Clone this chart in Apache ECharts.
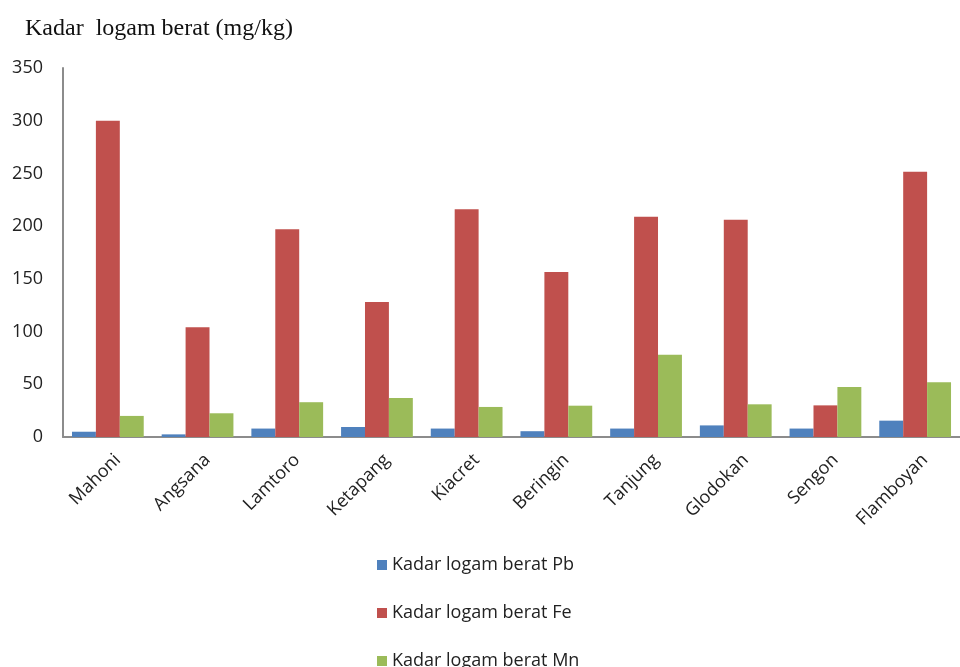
<!DOCTYPE html>
<html>
<head>
<meta charset="utf-8">
<script src="https://cdn.jsdelivr.net/npm/echarts@6/dist/echarts.min.js"></script>
<style>html,body{margin:0;padding:0;background:#fff}#c{width:960px;height:667px}</style>
</head>
<body>
<div id="c"></div>
<script>
const categories = ['Mahoni','Angsana','Lamtoro','Ketapang','Kiacret','Beringin','Tanjung','Glodokan','Sengon','Flamboyan'];
const pb = [5, 2.5, 8, 9.5, 8, 5.5, 8, 11, 8, 15.5];
const fe = [300, 104, 197, 128, 216, 156.5, 209, 206, 30, 251.5];
const mn = [20, 22.5, 33, 37, 28.5, 29.7, 78, 31, 47.5, 52];
const seriesNames = ['Kadar logam berat Pb','Kadar logam berat Fe','Kadar logam berat Mn'];
const yTicks = [0, 50, 100, 150, 200, 250, 300, 350];

const chart = echarts.init(document.getElementById('c'));
const sans = '"Open Sans", "Noto Sans", sans-serif';
const legendTops = [551, 599, 647];
chart.setOption({
  animation: false,
  color: ['#4F81BD','#C0504D','#9BBB59'],
  title: {
    text: 'Kadar  logam berat (mg/kg)',
    left: 20, top: 12,
    textStyle: {fontFamily: '"Liberation Serif", "DejaVu Serif", serif', fontSize: 24, fontWeight: 'normal', color: '#111'}
  },
  legend: seriesNames.map((n, i) => ({
    orient: 'vertical', left: 372, top: legendTops[i],
    itemWidth: 10, itemHeight: 10, icon: 'rect', itemGap: 6,
    textStyle: {fontFamily: sans, fontSize: 18, color: '#222', padding: [0, 0, 0, 0]},
    data: [n]
  })),
  grid: {left: 63, right: 0, top: 68, bottom: 230, containLabel: false},
  xAxis: {
    type: 'category', data: categories,
    axisLine: {lineStyle: {color: '#8c8c8c', width: 2}},
    axisTick: {show: false},
    axisLabel: {rotate: 45, interval: 0, fontFamily: sans, fontSize: 18, color: '#222', margin: 30, padding: [0, -14, 0, 0]}
  },
  yAxis: {
    type: 'value', min: yTicks[0], max: yTicks[yTicks.length-1], interval: 50,
    axisLine: {show: true, lineStyle: {color: '#8c8c8c', width: 2}},
    axisTick: {show: false},
    splitLine: {show: false},
    axisLabel: {fontFamily: sans, fontSize: 18, color: '#222', margin: 20}
  },
  series: [
    {name: seriesNames[0], type: 'bar', data: pb, barGap: '0%', barCategoryGap: '20%'},
    {name: seriesNames[1], type: 'bar', data: fe, barGap: '0%', barCategoryGap: '20%'},
    {name: seriesNames[2], type: 'bar', data: mn, barGap: '0%', barCategoryGap: '20%'}
  ]
});
</script>
</body>
</html>
